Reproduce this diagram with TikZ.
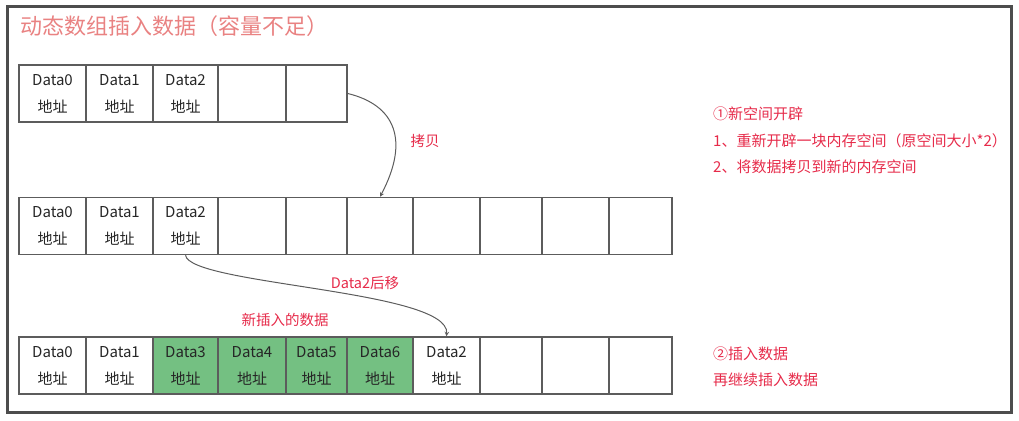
\documentclass[tikz,border=0pt]{standalone}
\usepackage{fontspec}
\setmainfont{Noto Sans CJK SC}
\usepackage{xcolor}
\usepackage{tikz}
\usetikzlibrary{calc}

\definecolor{framegray}{HTML}{4D4D4D}
\definecolor{cellgray}{HTML}{5C5C5C}
\definecolor{datagreen}{HTML}{74C082}
\definecolor{titlered}{HTML}{E98282}
\definecolor{notered}{HTML}{E62B4A}

\begin{document}
\begin{tikzpicture}[x=1pt, y=-1pt, >=stealth,
    cell/.style={draw=cellgray, line width=1.5pt, minimum height=57pt, inner sep=0pt,
                 align=center, text=black!85, font=\fontsize{15}{27}\selectfont},
    newcell/.style={cell, fill=datagreen},
    note/.style={text=notered, font=\fontsize{14.5}{18}\selectfont, inner sep=0pt},
    sidenote/.style={note, anchor=west, font=\fontsize{15}{18}\selectfont}]
    \useasboundingbox (0,0) rectangle (1019,420);

    % Outer frame and title
    \draw[framegray, line width=3pt] (7.5,7) rectangle (1011,412);
    \node[anchor=west, inner sep=0pt, text=titlered, font=\fontsize{22}{24}\selectfont] (title) at (20,26) {动态数组插入数据（容量不足）};

    % Old array (5 cells)
    \node[cell, minimum width=67pt] (a1) at (52.5,93.5) {Data0\\地址};
    \node[cell, minimum width=67pt] (a2) at (119.5,93.5) {Data1\\地址};
    \node[cell, minimum width=65pt] (a3) at (185.5,93.5) {Data2\\地址};
    \node[cell, minimum width=68pt] (a4) at (252,93.5) {};
    \node[cell, minimum width=61pt] (a5) at (316.5,93.5) {};

    % New array after copy (10 cells)
    \node[cell, minimum width=67pt] (b1) at (52.5,226) {Data0\\地址};
    \node[cell, minimum width=67pt] (b2) at (119.5,226) {Data1\\地址};
    \node[cell, minimum width=65pt] (b3) at (185.5,226) {Data2\\地址};
    \node[cell, minimum width=68pt] (b4) at (252,226) {};
    \node[cell, minimum width=61pt] (b5) at (316.5,226) {};
    \node[cell, minimum width=66pt] (b6) at (380,226) {};
    \node[cell, minimum width=67pt] (b7) at (446.5,226) {};
    \node[cell, minimum width=62pt] (b8) at (511,226) {};
    \node[cell, minimum width=67pt] (b9) at (575.5,226) {};
    \node[cell, minimum width=63pt] (b10) at (640.5,226) {};

    % Array after insert
    \node[cell, minimum width=67pt] (d1) at (52.5,365.5) {Data0\\地址};
    \node[cell, minimum width=67pt] (d2) at (119.5,365.5) {Data1\\地址};
    \node[newcell, minimum width=65pt] (d3) at (185.5,365.5) {Data3\\地址};
    \node[newcell, minimum width=68pt] (d4) at (252,365.5) {Data4\\地址};
    \node[newcell, minimum width=61pt] (d5) at (316.5,365.5) {Data5\\地址};
    \node[newcell, minimum width=66pt] (d6) at (380,365.5) {Data6\\地址};
    \node[cell, minimum width=67pt] (d7) at (446.5,365.5) {Data2\\地址};
    \node[cell, minimum width=62pt] (d8) at (511,365.5) {};
    \node[cell, minimum width=67pt] (d9) at (575.5,365.5) {};
    \node[cell, minimum width=63pt] (d10) at (640.5,365.5) {};

    % Arrows
    \draw[->, cellgray, line width=1pt] (a5.east) .. controls (395,105) and (410,140) .. (b6.north);
    \node[note] (copy) at (425,141) {拷贝};
    \draw[->, cellgray, line width=1pt] (b3.south) .. controls (190,285) and (450,290) .. (d7.north);
    \node[note] (move) at (365,283) {Data2后移};
    \node[note] (newdata) at (285,320) {新插入的数据};

    % Notes on the right
    \node[sidenote] (step1) at (713,114) {①新空间开辟};
    \node[sidenote] (step1a) at (713,141) {1、重新开辟一块内存空间（原空间大小*2）};
    \node[sidenote] (step1b) at (713,167) {2、将数据拷贝到新的内存空间};
    \node[sidenote] (step2) at (713,354) {②插入数据};
    \node[sidenote] (step2a) at (713,380) {再继续插入数据};
\end{tikzpicture}
\end{document}
